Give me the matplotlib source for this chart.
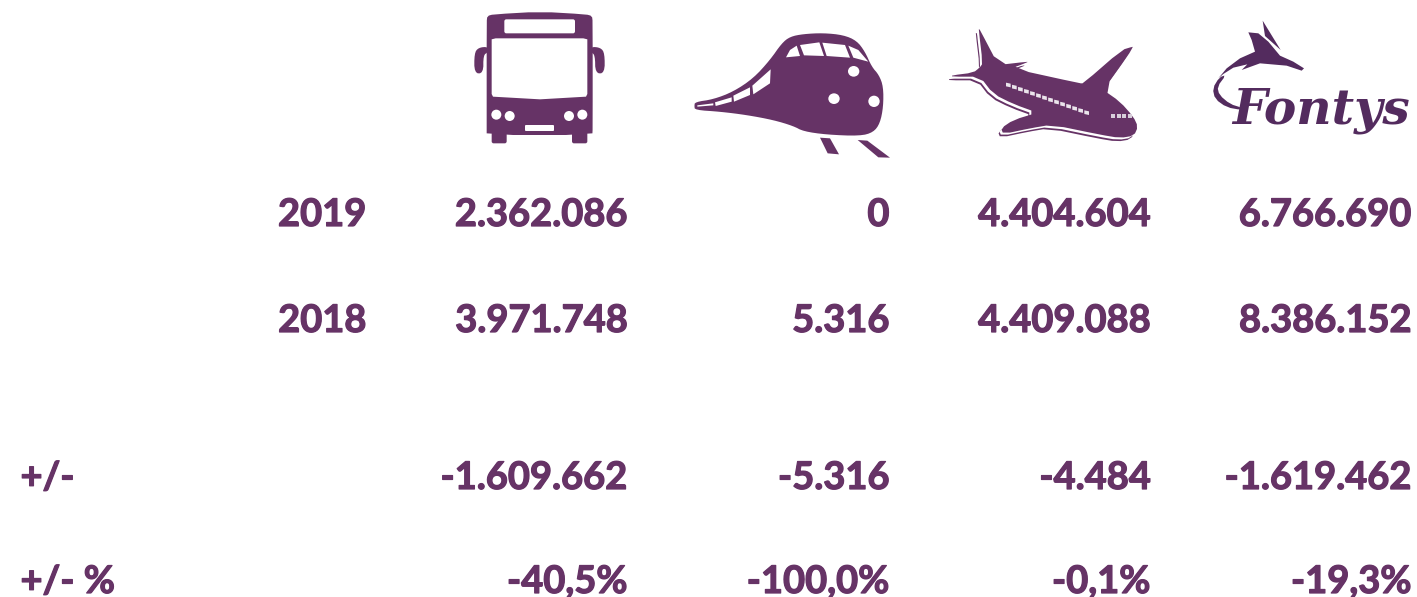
import matplotlib
matplotlib.use("Agg")
import matplotlib.pyplot as plt
import matplotlib.patheffects as pe
from matplotlib.patches import Polygon, Ellipse, FancyBboxPatch

row_labels = ["2019", "2018", "+/-", "+/- %"]
col_bus = ["2.362.086", "3.971.748", "-1.609.662", "-40,5%"]
col_train = ["0", "5.316", "-5.316", "-100,0%"]
col_plane = ["4.404.604", "4.409.088", "-4.484", "-0,1%"]
col_total = ["6.766.690", "8.386.152", "-1.619.462", "-19,3%"]

PURPLE = "#663366"
DARK = "#532b5e"
W, H = 1417, 597

fig = plt.figure(figsize=(W / 100, H / 100), dpi=100, facecolor="white")
ax = fig.add_axes([0, 0, 1, 1])
ax.set_xlim(0, W)
ax.set_ylim(H, 0)
ax.axis("off")

baselines = [226, 332, 489, 593]
col_right = [627.5, 889.5, 1150.5, 1411.5]
fs = 27.4
heavy = [pe.withStroke(linewidth=0.9, foreground=PURPLE)]
font = dict(family="Lato", fontweight="bold", color=PURPLE, fontsize=fs, va="baseline", path_effects=heavy)

for i, lab in enumerate(row_labels):
    if i < 2:
        ax.text(366.5, baselines[i], lab, ha="right", **font)
    else:
        ax.text(20.5, baselines[i], lab, ha="left", **font)
for xr, col in zip(col_right, [col_bus, col_train, col_plane, col_total]):
    for b, v in zip(baselines, col):
        ax.text(xr, b, v, ha="right", **font)


def chaikin(pts, n=2):
    for _ in range(n):
        out = []
        m = len(pts)
        for i in range(m):
            a, b = pts[i], pts[(i + 1) % m]
            out.append((0.75 * a[0] + 0.25 * b[0], 0.75 * a[1] + 0.25 * b[1]))
            out.append((0.25 * a[0] + 0.75 * b[0], 0.25 * a[1] + 0.75 * b[1]))
        pts = out
    return pts


def poly(pts, ox, color=PURPLE, smooth=0, dx=0, dy=0, **kw):
    p = [((x + dx) / 3 + ox, (y + dy) / 3) for x, y in pts]
    if smooth:
        p = chaikin(p, smooth)
    ax.add_patch(Polygon(p, closed=True, facecolor=color, edgecolor="none", **kw))


def dot(x, y, rx, ry, ox, color="white"):
    ax.add_patch(Ellipse((x / 3 + ox, y / 3), 2 * rx / 3, 2 * ry / 3, facecolor=color, edgecolor="none"))


def rbox(x0, y0, x1, y1, r, ox, color):
    ax.add_patch(FancyBboxPatch((x0 / 3 + ox + r, y0 / 3 + r), (x1 - x0) / 3 - 2 * r, (y1 - y0) / 3 - 2 * r,
                                boxstyle=f"round,pad={r}", facecolor=color, edgecolor="none"))


# ---- bus
OX = 460
poly([(80, 65), (82, 48), (100, 43), (240, 35), (378, 43), (396, 48), (398, 65), (398, 385), (397, 405), (80, 405), (80, 385)],
     OX, smooth=1)
rbox(95, 395, 140, 430, 2, OX, PURPLE)
rbox(336, 395, 382, 430, 2, OX, PURPLE)
poly([(84, 140), (55, 143), (43, 160), (43, 220), (70, 220), (70, 165), (84, 157)], OX, smooth=2)
poly([(393, 140), (422, 143), (434, 160), (434, 220), (406, 220), (405, 165), (393, 157)], OX, smooth=2)
rbox(133, 58, 345, 100, 2, OX, "white")
poly([(107, 115), (370, 115), (382, 118), (382, 125), (382, 282), (378, 290), (240, 298), (99, 290), (95, 282), (95, 125), (95, 118)],
     OX, color="white")
for x, y in [(109, 344), (149, 348), (327, 348), (367, 344)]:
    dot(x, y, 15, 15, OX)
rbox(195, 375, 282, 393, 1, OX, "white")

# ---- train
poly([(705, 306), (760, 298), (820, 275), (880, 235), (930, 180), (965, 130), (990, 110), (1030, 102),
      (1090, 99), (1150, 105), (1190, 122), (1215, 155), (1235, 200), (1257, 225), (1270, 260), (1270, 320),
      (1260, 370), (1240, 397), (1200, 408), (1100, 404), (1030, 394), (1000, 378), (940, 360), (860, 345),
      (780, 335), (705, 330), (703, 318)], OX, smooth=2)
for w in ([(978, 172), (990, 150), (1010, 137), (1020, 168)],
          [(1020, 135), (1078, 127), (1092, 168), (1032, 166)],
          [(1087, 128), (1155, 135), (1170, 173), (1100, 168)],
          [(1165, 137), (1195, 150), (1225, 185), (1180, 173)],
          [(932, 208), (930, 250), (880, 283), (877, 257)],
          [(870, 262), (870, 285), (822, 305), (820, 287)],
          [(815, 292), (815, 305), (767, 318), (765, 307)],
          [(760, 310), (760, 316), (712, 320), (712, 316)]):
    poly(w, OX, color="white")
dot(1181, 214, 17, 16, OX)
dot(1122, 296, 17, 16, OX)
dot(1242, 304, 17, 17, OX)
poly([(1080, 413), (1110, 415), (1137, 463), (1103, 460)], OX)
poly([(1193, 420), (1222, 422), (1290, 473), (1255, 472)], OX)

# ---- plane
OX = 940
plane = [(116, 88), (118, 88), (120, 90), (175, 195), (262, 185), (262, 187), (215, 205), (420, 250), (430, 250),
         (545, 150), (578, 140), (578, 142), (565, 165), (490, 270), (540, 305), (580, 350), (594, 380), (582, 407),
         (540, 414), (480, 404), (335, 374), (270, 385), (190, 402), (183, 385), (220, 360), (292, 338), (220, 312),
         (160, 282), (120, 230), (36, 230), (36, 226), (100, 218), (120, 202), (128, 190)]
poly(plane, OX, dx=-9, dy=11, smooth=1)
poly(plane, OX, color="white", dx=-6, dy=6, smooth=1)
poly(plane, OX, smooth=1)
x0, y0, x1, y1 = 205, 255, 440, 338
n = 14
for k in range(n):
    a = k / (n - 1)
    cx, cy = x0 + (x1 - x0) * a, y0 + (y1 - y0) * a
    poly([(cx - 7, cy - 7), (cx + 7, cy - 4), (cx + 7, cy + 7), (cx - 7, cy + 4)], OX, color="#ebe5ec")
for cx in (520, 537, 553, 570):
    poly([(cx - 6, 342), (cx + 6, 342), (cx + 6, 354), (cx - 6, 354)], OX, color="#d8cfdb")

# ---- Fontys logo
poly([(968, 62), (1022, 150), (975, 108)], OX, color=DARK)
poly([(925, 97), (955, 100), (985, 125), (1020, 167), (1060, 185), (1092, 205), (1085, 212), (1040, 197), (960, 190),
      (905, 210), (922, 193), (880, 203), (850, 222), (835, 235), (860, 205), (900, 175), (945, 155), (935, 120)],
     OX, color=DARK)
poly([(838, 232), (818, 265), (825, 297), (860, 322), (905, 330), (905, 323), (870, 312), (838, 285), (832, 260),
      (858, 225)], OX, color=DARK, smooth=1)
ax.text(1232, 123, "Fontys", family="DejaVu Serif", fontweight="bold", style="italic", color=DARK,
        fontsize=35, ha="left", va="baseline")

fig.savefig("out.png", dpi=100, facecolor="white")
